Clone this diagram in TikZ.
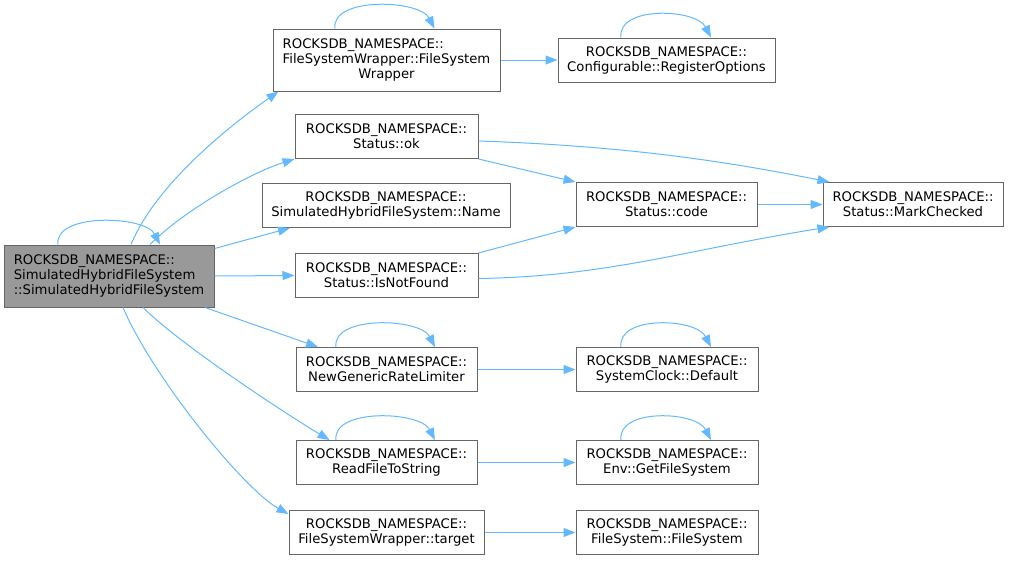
\documentclass[tikz,border=0pt]{standalone}
\usepackage{fontspec}
\setmainfont{DejaVu Sans}
\usepackage{xcolor}
\usetikzlibrary{arrows.meta, calc}

\definecolor{edgeblue}{HTML}{63B8FF}
\definecolor{boxgray}{HTML}{666666}
\definecolor{mainfill}{HTML}{999999}

% recursive call drawn as a small loop over the top of a box
\newcommand{\selfloop}[3]{%
  \draw[call] ([xshift=#2]#1.north) .. controls +(-4,-32) and +(-15,-29) .. ([xshift=#3]#1.north);}

\begin{document}
\begin{tikzpicture}[
    x=1pt, y=-1pt,
    func/.style={draw=boxgray, line width=1pt, rectangle, minimum height=44pt, inner sep=0pt, align=center, font=\fontsize{13.2}{15}\selectfont, fill=white},
    call/.style={-{Triangle[length=12pt,width=9pt]}, line width=1pt, draw=edgeblue}
]
\useasboundingbox (0,0) rectangle (1010,560);

\node[func, fill=mainfill, minimum width=210pt, minimum height=62pt, align=left] (main) at (109,276) {ROCKSDB\_NAMESPACE::\\SimulatedHybridFileSystem\\::SimulatedHybridFileSystem};

\node[func, minimum width=227pt, minimum height=62pt] (fswrap) at (386.5,60) {\begin{tabular}{@{}l@{}}ROCKSDB\_NAMESPACE::\\FileSystemWrapper::FileSystem\\\multicolumn{1}{@{}c@{}}{Wrapper}\end{tabular}};
\node[func, minimum width=217pt] (regopt) at (666.5,60) {ROCKSDB\_NAMESPACE::\\Configurable::RegisterOptions};
\node[func, minimum width=183pt] (ok) at (386.5,136.5) {ROCKSDB\_NAMESPACE::\\Status::ok};
\node[func, minimum width=248pt] (name) at (386,205.5) {ROCKSDB\_NAMESPACE::\\SimulatedHybridFileSystem::Name};
\node[func, minimum width=183pt] (notfound) at (386.5,275.5) {ROCKSDB\_NAMESPACE::\\Status::IsNotFound};
\node[func, minimum width=181pt] (code) at (666.5,204.5) {ROCKSDB\_NAMESPACE::\\Status::code};
\node[func, minimum width=180pt] (checked) at (913,204.5) {ROCKSDB\_NAMESPACE::\\Status::MarkChecked};
\node[func, minimum width=181pt] (ratelim) at (386.5,369.5) {ROCKSDB\_NAMESPACE::\\NewGenericRateLimiter};
\node[func, minimum width=182pt] (clock) at (667,369.5) {ROCKSDB\_NAMESPACE::\\SystemClock::Default};
\node[func, minimum width=181pt] (readfile) at (386.5,462.5) {ROCKSDB\_NAMESPACE::\\ReadFileToString};
\node[func, minimum width=182pt] (getfs) at (667,462.5) {ROCKSDB\_NAMESPACE::\\Env::GetFileSystem};
\node[func, minimum width=195pt] (target) at (386.5,532.5) {ROCKSDB\_NAMESPACE::\\FileSystemWrapper::target};
\node[func, minimum width=182pt] (fs) at (667,532.5) {ROCKSDB\_NAMESPACE::\\FileSystem::FileSystem};

% self calls
\selfloop{main}{-51pt}{51pt}
\selfloop{fswrap}{-51.5pt}{48pt}
\selfloop{regopt}{-45.5pt}{44.5pt}
\selfloop{ratelim}{-50.5pt}{48.5pt}
\selfloop{readfile}{-50.5pt}{48.5pt}
\selfloop{clock}{-46pt}{44pt}
\selfloop{getfs}{-46pt}{44pt}

% calls from the constructor
\draw[call] ([xshift=22pt]main.north) .. controls +(25,-60) and +(-50,35) .. ([xshift=-108pt]fswrap.south);
\draw[call] ([xshift=41pt]main.north) .. controls +(35,-35) and +(-44,14) .. (ok.south west);
\draw[call] ([yshift=-4pt]main.north east) -- ([xshift=-96pt]name.south);
\draw[call] (main.east) -- (notfound.west);
\draw[call] ([xshift=96pt]main.south) -- ([xshift=-68.5pt]ratelim.north);
\draw[call] ([xshift=34pt]main.south) .. controls +(35,35) and +(-50,-30) .. ([xshift=-57pt]readfile.north);
\draw[call] ([xshift=14pt]main.south) .. controls +(30,70) and +(-45,-25) .. ([yshift=-4pt]target.north west);

\draw[call] (fswrap.east) -- (regopt.west);
\draw[call] ([yshift=-4.5pt]ok.east) .. controls +(150,5) and +(-100,-20) .. ([xshift=7pt]checked.north west);
\draw[call] (ok.south east) -- (code.north west);
\draw[call] (code.east) -- (checked.west);
\draw[call] (notfound.north east) -- (code.south west);
\draw[call] ([yshift=-3pt]notfound.east) .. controls +(130,-2) and +(-140,22) .. ([xshift=7pt]checked.south west);
\draw[call] (ratelim.east) -- (clock.west);
\draw[call] (readfile.east) -- (getfs.west);
\draw[call] (target.east) -- (fs.west);

\end{tikzpicture}
\end{document}
